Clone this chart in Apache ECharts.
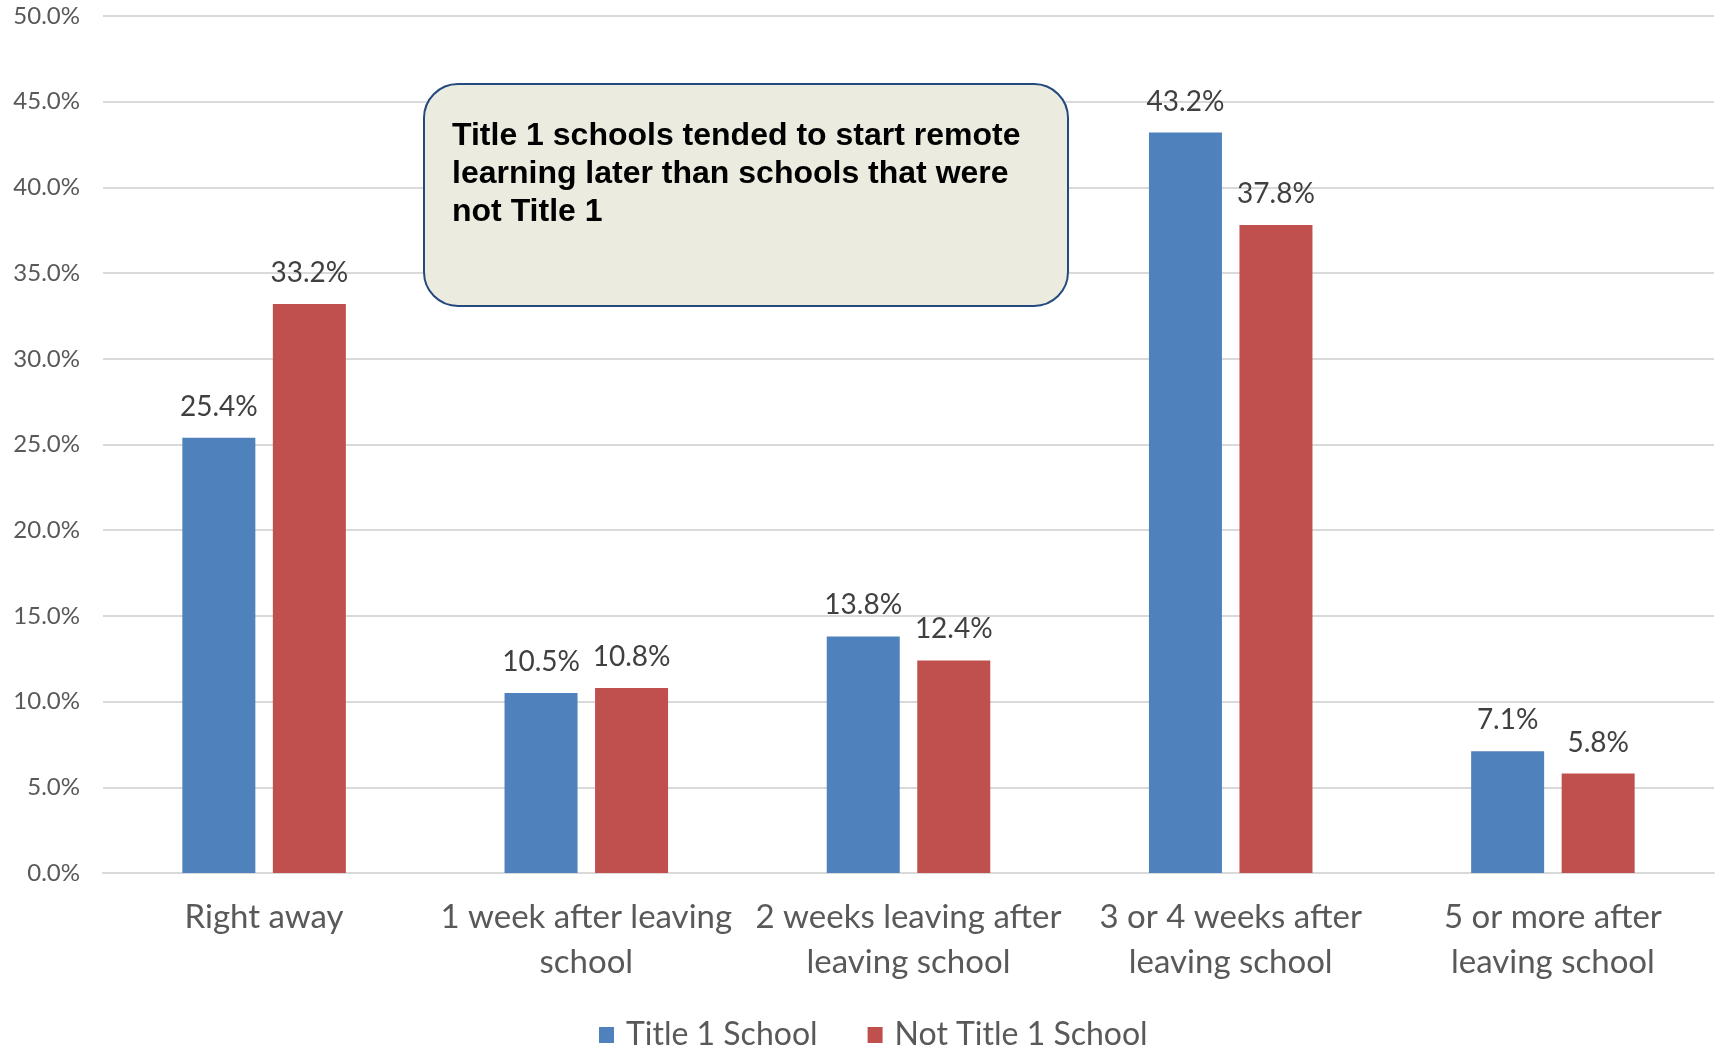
<!DOCTYPE html>
<html>
<head>
<meta charset="utf-8">
<script src="https://cdn.jsdelivr.net/npm/echarts@6/dist/echarts.min.js"></script>
<style>
html,body{margin:0;padding:0;background:#fff;}
#chart{width:1721px;height:1048px;}
</style>
</head>
<body>
<div id="chart"></div>
<script>
const categories = [
  'Right away',
  '1 week after leaving\nschool',
  '2 weeks leaving after\nleaving school',
  '3 or 4 weeks after\nleaving school',
  '5 or more after\nleaving school'
];
const seriesNames = ['Title 1 School', 'Not Title 1 School'];
const title1Values = [25.4, 10.5, 13.8, 43.2, 7.1];
const notTitle1Values = [33.2, 10.8, 12.4, 37.8, 5.8];
const calloutLines = [
  'Title 1 schools tended to start remote',
  'learning later than schools that were',
  'not Title 1'
];

const chart = echarts.init(document.getElementById('chart'), null, {renderer: 'canvas'});
const labelStyle = {
  show: true,
  position: 'top',
  distance: 17,
  fontFamily: 'Lato',
  fontSize: 28,
  color: '#404040',
  formatter: p => p.value.toFixed(1) + '%'
};
chart.setOption({
  animation: false,
  backgroundColor: '#ffffff',
  grid: {left: 103, right: 7, top: 16, bottom: 175},
  legend: {
    left: 594,
    top: 1014,
    itemWidth: 15,
    itemHeight: 16,
    itemGap: 50,
    icon: 'rect',
    textStyle: {fontFamily: 'Lato', fontSize: 32, color: '#595959', padding: [0,0,0,7]},
    data: seriesNames
  },
  xAxis: {
    type: 'category',
    data: categories,
    axisLine: {show: true, lineStyle: {color: '#d9d9d9', width: 2}},
    axisTick: {show: false},
    axisLabel: {
      interval: 0,
      margin: 22,
      fontFamily: 'Lato',
      fontSize: 33,
      lineHeight: 45,
      color: '#595959'
    }
  },
  yAxis: {
    type: 'value',
    min: 0,
    max: 50,
    interval: 5,
    axisLine: {show: false},
    axisTick: {show: false},
    splitLine: {lineStyle: {color: '#d9d9d9', width: 2}},
    axisLabel: {
      margin: 23,
      fontFamily: 'Lato',
      fontSize: 24,
      color: '#595959',
      formatter: v => v.toFixed(1) + '%'
    }
  },
  series: [
    {
      name: seriesNames[0],
      type: 'bar',
      data: title1Values,
      barWidth: 73,
      barGap: '24%',
      itemStyle: {color: '#4f81bd'},
      label: labelStyle
    },
    {
      name: seriesNames[1],
      type: 'bar',
      data: notTitle1Values,
      barWidth: 73,
      itemStyle: {color: '#c0504d'},
      label: labelStyle
    }
  ],
  graphic: [
    {
      type: 'rect',
      left: 423,
      top: 83,
      z: 100,
      shape: {width: 644, height: 222, r: 34},
      style: {fill: '#ecebe0', stroke: '#24497d', lineWidth: 2}
    },
    {
      type: 'text',
      left: 452,
      top: 117,
      z: 101,
      style: {
        text: calloutLines.join('\n'),
        fontFamily: 'Liberation Sans',
        fontWeight: 'bold',
        fontSize: 32,
        lineHeight: 38,
        fill: '#000000'
      }
    }
  ]
});
</script>
</body>
</html>
